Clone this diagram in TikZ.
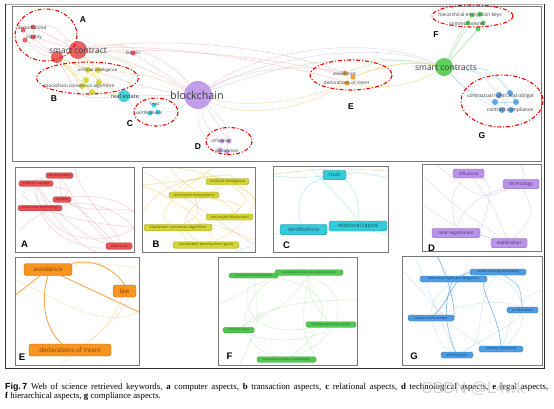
\documentclass[tikz,border=0pt]{standalone}
\usepackage{fontspec}
\setmainfont{Liberation Serif}
\newfontfamily\osans{Open Sans}
\newfontfamily\lsans{Liberation Sans}
\pgfdeclarelayer{bg}
\pgfdeclarelayer{paper}
\pgfsetlayers{paper,bg,main}
\definecolor{cRed}{RGB}{232,80,84}
\definecolor{cRedT}{RGB}{140,20,24}
\definecolor{cYel}{RGB}{212,212,52}
\definecolor{cYelT}{RGB}{95,95,0}
\definecolor{cCya}{RGB}{52,202,218}
\definecolor{cCyaT}{RGB}{10,85,95}
\definecolor{cPur}{RGB}{186,148,232}
\definecolor{cPurT}{RGB}{80,40,130}
\definecolor{cOra}{RGB}{248,148,32}
\definecolor{cOraT}{RGB}{135,65,0}
\definecolor{cGre}{RGB}{82,200,82}
\definecolor{cGreT}{RGB}{20,95,20}
\definecolor{cBlu}{RGB}{78,156,226}
\definecolor{cBluT}{RGB}{15,55,110}
\definecolor{cFrame}{RGB}{120,120,120}
\definecolor{cTxt}{RGB}{60,60,60}
\begin{document}
\begin{tikzpicture}[x=1pt,y=-1pt,
  every node/.style={inner sep=0pt},
  tc/.style={circle, inner sep=0pt, minimum size=#1, fill opacity=0.9},
  tlab/.style={font=\osans\fontsize{#1}{#1}\selectfont, text=cTxt},
  letter/.style={font=\lsans\bfseries\fontsize{#1}{#1}\selectfont, text=black},
  cluster/.style={draw=red, line width=1.1pt, dash pattern=on 4pt off 2pt on 1pt off 2pt},
  panel/.style={draw=cFrame, line width=0.8pt},
  kw/.style={rounded corners=1.6pt, inner xsep=1pt, inner ysep=0.5pt, line width=0.4pt},
  kwR/.style={kw, fill=cRed, draw=cRed!75!black, text=cRedT, font=\osans\fontsize{3.5}{3.5}\selectfont},
  kwY/.style={kw, fill=cYel, draw=cYel!75!black, text=cYelT, font=\osans\fontsize{3.8}{3.8}\selectfont},
  kwC/.style={kw, fill=cCya, draw=cCya!75!black, text=cCyaT, font=\osans\fontsize{5.3}{5.3}\selectfont},
  kwP/.style={kw, fill=cPur, draw=cPur!75!black, text=cPurT, font=\osans\fontsize{4.6}{4.6}\selectfont},
  kwO/.style={kw, rounded corners=2.5pt, fill=cOra, draw=cOra!75!black, text=cOraT, font=\osans\fontsize{6.2}{6.2}\selectfont},
  kwG/.style={kw, fill=cGre, draw=cGre!75!black, text=cGreT, font=\osans\fontsize{2.9}{2.9}\selectfont},
  kwB/.style={kw, fill=cBlu, draw=cBlu!75!black, text=cBluT, font=\osans\fontsize{3.3}{3.3}\selectfont},
  eR/.style={draw=cRed!70, line width=0.5pt, opacity=0.4},
  eY/.style={draw=cYel!80!orange, line width=0.5pt, opacity=0.45},
  eC/.style={draw=cCya!80, line width=0.5pt, opacity=0.45},
  eP/.style={draw=cPur!80, line width=0.5pt, opacity=0.45},
  eO/.style={draw=cOra!80, line width=0.5pt, opacity=0.4},
  eG/.style={draw=cGre!80, line width=0.5pt, opacity=0.4},
  eB/.style={draw=cBlu!80, line width=0.5pt, opacity=0.4},
]
\useasboundingbox (0,0) rectangle (554,408);
\begin{pgfonlayer}{paper}
\fill[white] (0,0) rectangle (554,408);
\end{pgfonlayer}

% ---------------- outer frames ----------------
\draw[draw=cFrame!60, line width=0.8pt] (5,4) -- (543,4);
\draw[draw=cFrame!40!black, line width=1pt] (5,4) -- (5,368) -- (544,368) -- (544,4);
\draw[panel] (12.5,6) rectangle (541,161);

% ---------------- top overview: nodes ----------------
\node[tc=18, fill=cRed] (scbig) at (78,50) {};
\node[tc=12, fill=cRed] (scsm) at (57,57) {};
\node[tc=5, fill=cRed] (dec1) at (23,30) {};
\node[tc=5, fill=cRed] (dec2) at (33,27) {};
\node[tc=5, fill=cRed] (sol1) at (25,40) {};
\node[tc=5, fill=cRed] (sol2) at (33,37) {};
\node[tc=5, fill=cRed] (btc) at (133,53) {};
\node[tc=6, fill=cYel] (y1) at (88,70) {};
\node[tc=6, fill=cYel] (y2) at (98,70) {};
\node[tc=6, fill=cYel] (y3) at (86,80) {};
\node[tc=6, fill=cYel] (y4) at (99,82) {};
\node[tc=6, fill=cYel] (y5) at (82,86) {};
\node[tc=6, fill=cYel] (y6) at (92,92) {};
\node[tc=12, fill=cCya] (re) at (124,96) {};
\node[tc=5, fill=cCya] (tr) at (154,105) {};
\node[tc=5, fill=cCya] (ce1) at (150,113) {};
\node[tc=5, fill=cCya] (ce2) at (158,112) {};
\node[tc=28, fill=cPur] (bc) at (198,95) {};
\node[tc=5, fill=cPur] (in1) at (222,141) {};
\node[tc=5, fill=cPur] (in2) at (229,141) {};
\node[tc=5, fill=cPur] (ex1) at (220,150) {};
\node[tc=5, fill=cPur] (ex2) at (227,152) {};
\node[tc=5, fill=cOra] (av1) at (345,73) {};
\node[tc=5, fill=cOra] (av2) at (353,77) {};
\node[tc=5, fill=cOra] (de1) at (347,83) {};
\node[tc=18, fill=cGre] (scs) at (444,67) {};
\node[tc=5, fill=cGre] (f1) at (472,15) {};
\node[tc=5, fill=cGre] (f2) at (480,14) {};
\node[tc=5, fill=cGre] (f3) at (468,23) {};
\node[tc=5, fill=cGre] (f4) at (483,23) {};
\node[tc=5, fill=cGre] (f5) at (478,29) {};
\node[tc=6, fill=cBlu] (g1) at (499,95) {};
\node[tc=6, fill=cBlu] (g2) at (510,93) {};
\node[tc=6, fill=cBlu] (g3) at (516,102) {};
\node[tc=6, fill=cBlu] (g4) at (511,110) {};
\node[tc=6, fill=cBlu] (g5) at (502,110) {};
\node[tc=6, fill=cBlu] (g6) at (495,102) {};

% top labels
\node[tlab=4.6] (tDec) at (32,28) {decentralized};
\node[tlab=4.6] (tSol) at (34,37) {solidity};
\node[tlab=8.5] (tSC) at (78,51) {smart contract};
\node[tlab=4.4] (tBtc) at (133,53) {bitcoin};
\node[tlab=4.3] (tAI) at (97.5,70) {artificial intelligence};
\node[tlab=4.7] (tBCA) at (79.5,86) {blockchain consensus algorithm};
\node[tlab=5.8] (tRE) at (125,96) {real estate};
\node[tlab=4.2] (tTr) at (155,104) {trust};
\node[tlab=4.3] (tCe) at (149,113) {certifications};
\node[tlab=10.8] (tBC) at (197,95) {blockchain};
\node[tlab=4.4] (tIn) at (221,141) {influence};
\node[tlab=4.4] (tEx) at (227,151) {exploration};
\node[tlab=4.8] (tAv) at (344.5,74) {avoidance};
\node[tlab=4.6] (tDe) at (346.5,83) {declarations of intent};
\node[tlab=8.5] (tSCs) at (446,68) {smart contracts};
\node[tlab=4.9] (tHEK) at (470,15) {hierarchical encryption keys};
\node[tlab=4.9] (tCS) at (467,24) {common secret};
\node[tlab=4.9] (tCRO) at (500.5,96) {contractual rights and obligat};
\node[tlab=4.9] (tCC) at (510,110) {contract compliance};

% cluster ellipses
\draw[cluster] (46,35) ellipse [x radius=31, y radius=26];
\draw[cluster] (87.5,78) ellipse [x radius=51, y radius=16];
\draw[cluster] (156,112) ellipse [x radius=22, y radius=14];
\draw[cluster] (229,141) ellipse [x radius=23, y radius=13.5];
\draw[cluster] (351,75) ellipse [x radius=41, y radius=15];
\draw[cluster] (472.5,16) ellipse [x radius=40.5, y radius=11];
\draw[cluster] (502,101) ellipse [x radius=41, y radius=26];
\node[letter=8.5] (LA) at (83,20) {A};
\node[letter=8.5] (LB) at (54,99) {B};
\node[letter=8.5] (LC) at (130,124) {C};
\node[letter=8.5] (LD) at (198,147) {D};
\node[letter=8.5] (LE) at (351,107) {E};
\node[letter=8.5] (LF) at (436,35) {F};
\node[letter=8.5] (LG) at (482,136) {G};

% ---------------- top overview: edges ----------------
\begin{pgfonlayer}{bg}
\draw[eR] (scbig) .. controls (110,40) and (160,48) .. (bc);
\draw[eR] (scbig) .. controls (120,55) and (160,75) .. (bc);
\draw[eR] (scsm) .. controls (110,78) and (160,92) .. (bc);
\draw[eR] (scbig) -- (btc);
\draw[eP] (btc) -- (bc);
\draw[eR] (scbig) .. controls (180,33) and (290,52) .. (av1);
\draw[eR] (scsm) .. controls (150,40) and (300,62) .. (av2);
\draw[eR] (scbig) .. controls (170,40) and (310,70) .. (de1);
\draw[eR] (dec1) -- (scsm); \draw[eR] (dec2) -- (scbig);
\draw[eR] (sol1) -- (scsm); \draw[eR] (sol2) -- (scbig);
\draw[eR] (dec1) -- (sol1); \draw[eR] (dec2) -- (sol2);
\draw[eR] (dec1) .. controls (50,22) .. (scbig);
\draw[eR] (sol1) .. controls (40,55) .. (scsm);
\draw[eO] (bc) .. controls (240,118) and (300,112) .. (de1);
\draw[eO] (bc) .. controls (250,110) and (320,100) .. (av2);
\draw[eR] (bc) .. controls (240,70) and (300,62) .. (av1);
\draw[eP] (bc) .. controls (250,55) and (360,30) .. (scs);
\draw[eP] (bc) .. controls (260,60) and (370,38) .. (scs);
\draw[eG] (bc) .. controls (240,80) and (330,45) .. (scs);
\draw[eY, line width=1pt] (av2) .. controls (380,66) and (410,60) .. (scs);
\draw[eG] (av1) .. controls (380,58) and (410,58) .. (scs);
\draw[eY] (de1) .. controls (390,92) and (420,82) .. (scs);
\draw[eG] (scs) -- (f3); \draw[eG] (scs) -- (f5);
\draw[eG] (scs) .. controls (455,40) .. (f1);
\draw[eG] (scs) .. controls (465,45) .. (f4);
\draw[eG] (scs) .. controls (462,35) .. (f2);
\draw[eG] (f1) -- (f2) -- (f4) -- (f5) -- (f3) -- (f1);
\draw[eB] (scs) .. controls (480,72) .. (g1);
\draw[eB] (scs) .. controls (465,90) .. (g6);
\draw[eB] (scs) .. controls (490,68) .. (g2);
\draw[eB] (scs) .. controls (475,98) .. (g5);
\draw[eC] (scs) .. controls (500,75) .. (g3);
\draw[eB] (g1) -- (g2) -- (g3) -- (g4) -- (g5) -- (g6) -- (g1);
\draw[eB] (g1) -- (g4); \draw[eB] (g2) -- (g5); \draw[eB] (g6) -- (g3);
\draw[eP] (bc) .. controls (205,125) .. (in1);
\draw[eP] (bc) .. controls (215,120) .. (in2);
\draw[eP] (bc) .. controls (198,130) .. (ex1);
\draw[eP] (bc) .. controls (228,125) .. (ex2);
\draw[eP] (in1) -- (ex1); \draw[eP] (in2) -- (ex2);
\draw[eC] (re) -- (bc);
\draw[eC] (re) .. controls (140,98) .. (tr);
\draw[eC] (re) .. controls (135,110) .. (ce1);
\draw[eC] (tr) -- (bc); \draw[eC] (ce2) .. controls (175,112) .. (bc);
\draw[eC] (tr) -- (ce1) -- (ce2) -- (tr);
\draw[eY] (scsm) -- (y1); \draw[eY] (scsm) -- (y3); \draw[eY] (scsm) -- (y5);
\draw[eY] (scbig) -- (y2); \draw[eY] (scbig) -- (y4); \draw[eY] (scsm) -- (y6);
\draw[eY] (y1) -- (y2) -- (y4) -- (y6) -- (y5) -- (y3) -- (y1);
\draw[eY] (y1) -- (y4); \draw[eY] (y2) -- (y3);
\draw[eY] (y4) -- (re); \draw[eY] (y6) -- (re);
\draw[eO] (y2) .. controls (150,75) .. (bc);
\draw[eR] (scsm) .. controls (80,100) .. (re);
\draw[eG] (scbig) .. controls (140,65) .. (re);
\end{pgfonlayer}

% ---------------- panel A ----------------
\draw[panel] (15.5,167) rectangle (134,252);
\node[kwR, minimum width=27, minimum height=5.5] (aDec) at (59.5,175.5) {decentralized};
\node[kwR, minimum width=34, minimum height=5.5] (aPoc) at (36,183.5) {proof of concept};
\node[kwR, minimum width=18, minimum height=5.5] (aSol) at (62,199.5) {solidity};
\node[kwR, minimum width=44, minimum height=5.5] (aBt) at (40,208) {blockchain technology};
\node[kwR, minimum width=26, minimum height=6.5] (aEth) at (119,246) {ethereum};
\node[letter=9.5] (LA2) at (24.5,244) {A};
\coordinate (aX1) at (134,212);
\coordinate (aX2) at (134,228);
\coordinate (aX3) at (98,252);
\coordinate (aX4) at (75,167);
\begin{pgfonlayer}{bg}
\begin{scope}
\clip (15.5,167) rectangle (134,252);
\draw[eR] (aDec) .. controls (75,200) and (95,235) .. (aEth);
\draw[eR] (aPoc) .. controls (60,220) and (90,240) .. (aEth);
\draw[eR] (aSol) .. controls (85,210) and (100,230) .. (aEth);
\draw[eR] (aBt) .. controls (50,240) and (90,250) .. (aEth);
\draw[eR] (aPoc) .. controls (70,190) .. (aSol);
\draw[eR] (aPoc) .. controls (20,195) .. (aBt);
\draw[eR] (aDec) .. controls (60,185) .. (aSol);
\draw[eR] (aDec) .. controls (30,180) .. (aBt);
\draw[eR] (aBt) .. controls (60,195) and (110,190) .. (aX1);
\draw[eR] (aPoc) .. controls (50,215) and (80,250) .. (aX3);
\draw[eR] (aBt) .. controls (90,225) and (120,225) .. (aX2);
\draw[eR] (aSol) .. controls (90,215) and (120,205) .. (aX1);
\draw[eR] (aX4) .. controls (80,200) and (120,230) .. (aEth);
\draw[eR] (aPoc) .. controls (40,240) and (100,250) .. (aX2);
\draw[eR] (20,230) .. controls (60,190) and (110,200) .. (aX2);
\end{scope}
\end{pgfonlayer}

% ---------------- panel B ----------------
\draw[panel] (142.5,167) rectangle (255,252);
\node[kwY, minimum width=43, minimum height=6] (bAI) at (227.5,181.5) {artificial intelligence};
\node[kwY, minimum width=50, minimum height=6] (bRET) at (194,195) {real estate transactions};
\node[kwY, minimum width=47, minimum height=6] (bREB) at (229.5,217) {real estate blockchain};
\node[kwY, minimum width=68, minimum height=6.5] (bBCA) at (178,227.5) {blockchain consensus algorithm};
\node[kwY, minimum width=66, minimum height=6.5] (bSDG) at (206,245) {sustainable development goals};
\node[letter=9.5] (LB2) at (156,244) {B};
\coordinate (bX1) at (142.5,185);
\coordinate (bX2) at (170,167);
\coordinate (bX3) at (255,200);
\coordinate (bX4) at (215,167);
\coordinate (bX5) at (255,240);
\coordinate (bX6) at (142.5,212);
\begin{pgfonlayer}{bg}
\begin{scope}
\clip (142.5,167) rectangle (255,252);
\draw[eY] (bAI) .. controls (200,170) and (170,190) .. (bRET);
\draw[eY] (bAI) .. controls (250,200) .. (bREB);
\draw[eY] (bRET) .. controls (200,215) .. (bBCA);
\draw[eY] (bRET) .. controls (245,205) .. (bREB);
\draw[eY] (bBCA) .. controls (190,245) .. (bSDG);
\draw[eY] (bAI) .. controls (180,210) and (175,230) .. (bSDG);
\draw[eY] (bX1) .. controls (180,200) and (220,235) .. (bSDG);
\draw[eY] (bX2) .. controls (190,200) and (240,200) .. (bREB);
\draw[eY] (bX4) .. controls (180,190) and (150,215) .. (bBCA);
\draw[eY] (bX2) .. controls (230,175) and (250,190) .. (bX3);
\draw[eY] (bX6) .. controls (170,170) and (230,170) .. (bX3);
\draw[eY] (bBCA) .. controls (215,220) and (235,235) .. (bX5);
\draw[eY] (bX1) .. controls (200,180) and (240,170) .. (bAI);
\draw[eY] (bSDG) .. controls (240,230) and (250,215) .. (bX3);
\draw[eR] (145,172) .. controls (190,200) and (230,230) .. (255,245);
\draw[eC] (235,252) .. controls (245,248) .. (255,246);
\end{scope}
\end{pgfonlayer}

% ---------------- panel C ----------------
\draw[panel] (273.5,166.5) rectangle (388,252);
\node[kwC, minimum width=23, minimum height=9.5] (cTr) at (334.5,175) {trust};
\node[kwC, minimum width=47, minimum height=10.5] (cCe) at (303.5,229.5) {certifications};
\node[kwC, minimum width=58, minimum height=10] (cRC) at (358,226) {relational capital};
\node[letter=9.5] (LC2) at (286.5,245) {C};
\coordinate (cX1) at (273.5,176);
\coordinate (cX2) at (310,166.5);
\coordinate (cX3) at (388,178);
\coordinate (cX4) at (273.5,234);
\coordinate (cX5) at (388,236);
\begin{pgfonlayer}{bg}
\begin{scope}
\clip (273.5,166.5) rectangle (388,252);
\draw[eC] (cTr) .. controls (300,185) and (295,205) .. (cCe);
\draw[eC] (cTr) .. controls (355,185) and (360,205) .. (cRC);
\draw[eC] (cX1) .. controls (300,178) .. (cTr);
\draw[eC] (cX2) .. controls (330,190) and (350,205) .. (cRC);
\draw[eC] (cTr) .. controls (360,172) .. (cX3);
\draw[eC] (cCe) -- (cRC);
\draw[eC] (cX4) -- (cCe);
\draw[eC] (cRC) .. controls (375,232) .. (cX5);
\draw[draw=cOra!60!brown, line width=0.5pt, opacity=0.35] (273.5,174) .. controls (330,168) .. (388,171);
\end{scope}
\end{pgfonlayer}

% ---------------- panel D ----------------
\draw[panel] (422.5,164) rectangle (541,251);
\node[kwP, minimum width=31, minimum height=9] (dIn) at (468.5,173.5) {influence};
\node[kwP, minimum width=36, minimum height=9.5] (dTe) at (521,184) {technology};
\node[kwP, minimum width=48, minimum height=9.5] (dLR) at (456,233) {land registration};
\node[kwP, minimum width=36, minimum height=9.5] (dEx) at (509,243) {exploration};
\node[letter=9.5] (LD2) at (431.5,248) {D};
\coordinate (dX1) at (422.5,176);
\coordinate (dX2) at (422.5,205);
\coordinate (dX3) at (520,164);
\coordinate (dX4) at (435,164);
\begin{pgfonlayer}{bg}
\begin{scope}
\clip (422.5,164) rectangle (541,251);
\draw[eP] (dIn) .. controls (450,195) .. (dLR);
\draw[eP] (dIn) .. controls (490,200) .. (dEx);
\draw[eP] (dTe) .. controls (480,195) and (460,210) .. (dLR);
\draw[eP] (dTe) .. controls (535,215) .. (dEx);
\draw[eP] (dLR) .. controls (480,235) .. (dEx);
\draw[eP] (dX1) .. controls (460,210) .. (dEx);
\draw[eP] (dX2) .. controls (460,230) .. (dEx);
\draw[eP] (dX3) .. controls (525,175) .. (dTe);
\draw[eP] (dX4) .. controls (480,200) .. (dTe);
\draw[eP] (dIn) .. controls (500,185) and (480,230) .. (dLR);
\end{scope}
\end{pgfonlayer}

% ---------------- panel E ----------------
\draw[panel] (15.5,257) rectangle (139,365);
\node[kwO, minimum width=48, minimum height=12] (eAv) at (48,269.5) {avoidance};
\node[kwO, minimum width=23, minimum height=12] (eLa) at (124.5,291) {law};
\node[kwO, minimum width=82, minimum height=12] (eDe) at (70,350) {declarations of intent};
\node[letter=9.5] (LE2) at (22,357.5) {E};
\coordinate (eX1) at (15.5,295);
\coordinate (eX2) at (139,312);
\coordinate (eX3) at (139,268);
\coordinate (eX4) at (60,365);
\coordinate (eX5) at (15.5,280);
\begin{pgfonlayer}{bg}
\begin{scope}
\clip (15.5,257) rectangle (139,365);
\draw[draw=cOra, line width=0.9pt, opacity=0.8] (eAv.north east) .. controls (95,258) and (115,270) .. (eLa.north);
\draw[draw=cOra, line width=0.9pt, opacity=0.8] (eAv.south) .. controls (40,300) and (45,330) .. (eDe);
\draw[draw=cOra, line width=0.9pt, opacity=0.8] (eAv) -- (eX1);
\draw[draw=cOra, line width=0.9pt, opacity=0.8] (eAv) -- (eX2);
\draw[eO, opacity=0.35] (eLa) .. controls (110,330) and (80,350) .. (eX4);
\draw[eO, opacity=0.35] (eAv) .. controls (90,262) .. (eX3);
\draw[eO, opacity=0.35] (eDe) .. controls (110,330) and (130,300) .. (eLa);
\draw[eO, opacity=0.35] (eX5) .. controls (60,300) and (100,330) .. (eX2);
\end{scope}
\end{pgfonlayer}

% ---------------- panel F ----------------
\draw[panel] (218.5,257) rectangle (357,365);
\node[kwG, minimum width=49, minimum height=5] (fHEK) at (253.5,275.5) {hierarchical encryption keys};
\node[kwG, minimum width=68, minimum height=5.5] (fSBS) at (309,272.5) {sustainable blockchain-enabled services};
\node[kwG, minimum width=50, minimum height=5.5] (fMSS) at (331,324.5) {multifaceted scaling solution};
\node[kwG, minimum width=31, minimum height=5.5] (fCS) at (238.5,330) {common secret};
\node[kwG, minimum width=59, minimum height=5.5] (fHCC) at (286.5,359.5) {hierarchical contract conditionality};
\node[letter=9.5] (LF2) at (229.5,356.5) {F};
\coordinate (fX1) at (218.5,305);
\coordinate (fX2) at (240,365);
\coordinate (fX3) at (357,300);
\coordinate (fX4) at (320,365);
\begin{pgfonlayer}{bg}
\begin{scope}
\clip (218.5,257) rectangle (357,365);
\draw[eG, opacity=0.3] (fSBS) .. controls (250,280) and (220,340) .. (fHCC);
\draw[eG, opacity=0.3] (fHEK) .. controls (350,270) and (360,330) .. (fHCC);
\draw[eG, opacity=0.3] (fHEK) .. controls (240,300) and (245,340) .. (fMSS);
\draw[eG, opacity=0.3] (fSBS) .. controls (310,300) .. (fMSS);
\draw[eG, opacity=0.3] (fSBS) .. controls (300,330) .. (fX4);
\draw[eG, opacity=0.3] (fSBS) .. controls (290,310) and (250,320) .. (fCS);
\draw[eG, opacity=0.3] (fHEK) .. controls (260,320) .. (fX2);
\draw[eG, opacity=0.3] (fCS) .. controls (270,345) and (320,340) .. (fMSS);
\draw[eG, opacity=0.3] (fX1) .. controls (260,280) and (300,265) .. (fSBS);
\draw[eG, opacity=0.3] (fCS) .. controls (270,300) and (330,300) .. (fX3);
\draw[eG, opacity=0.3] (fHEK) .. controls (330,285) and (340,320) .. (fHCC);
\end{scope}
\end{pgfonlayer}

% ---------------- panel G ----------------
\draw[panel] (402.5,256) rectangle (542,365);
\node[kwB, minimum width=56, minimum height=6] (gMCT) at (498,272) {model checking and testing};
\node[kwB, minimum width=67, minimum height=6] (gCRO) at (453.5,279) {contractual rights and obligations};
\node[kwB, minimum width=31, minimum height=6] (gOnB) at (522.5,310) {on blockchain};
\node[kwB, minimum width=46, minimum height=6] (gCE) at (431,318) {contract enforcement};
\node[kwB, minimum width=44, minimum height=6] (gCC) at (501,349) {contract compliance};
\node[kwB, minimum width=32, minimum height=6] (gOffB) at (457,355) {off blockchain};
\node[letter=9.5] (LG2) at (414,356.5) {G};
\coordinate (gX1) at (437,256);
\coordinate (gX2) at (402.5,270);
\coordinate (gX3) at (415,256);
\coordinate (gX4) at (542,290);
\begin{pgfonlayer}{bg}
\begin{scope}
\clip (402.5,256) rectangle (542,365);
\draw[draw=cBlu, line width=0.6pt, opacity=0.8] (gCRO.east) .. controls (475,285) and (498,310) .. (gCC.north);
\draw[draw=cBlu, line width=0.6pt, opacity=0.8] (gCE) .. controls (450,300) and (455,275) .. (gMCT.west);
\draw[draw=cBlu, line width=0.6pt, opacity=0.8] (gX1) .. controls (445,270) and (455,300) .. (gCE.east);
\draw[draw=cBlu, line width=0.6pt, opacity=0.7] (gCRO) .. controls (440,310) and (450,340) .. (gOffB);
\draw[draw=cBlu, line width=0.6pt, opacity=0.6] (gMCT) .. controls (520,285) .. (gOnB);
\draw[eB, opacity=0.3] (gX2) .. controls (430,300) and (460,340) .. (gCC);
\draw[eB, opacity=0.3] (gX3) .. controls (440,320) .. (gOffB);
\draw[eB, opacity=0.3] (gCE) .. controls (470,300) and (510,300) .. (gOnB);
\draw[eB, opacity=0.3] (gOffB) .. controls (500,330) and (520,320) .. (gOnB);
\draw[eB, opacity=0.3] (gCE) .. controls (440,345) .. (gOffB);
\draw[eB, opacity=0.3] (gCRO) .. controls (520,270) and (540,320) .. (gCC);
\draw[eB, opacity=0.3] (gMCT) .. controls (470,310) and (490,340) .. (gOffB);
\draw[eB, opacity=0.3] (gX4) .. controls (510,300) and (510,330) .. (gCC);
\draw[eB, opacity=0.3] (gCE) .. controls (430,290) and (470,270) .. (gMCT);
\end{scope}
\end{pgfonlayer}

% ---------------- caption ----------------
\node[anchor=north west, align=left, font=\fontsize{8.8}{9.8}\selectfont] (cap) at (5,382.5)
 {\makebox[543pt][s]{{\lsans\bfseries Fig.\,7}\hspace{4pt}Web of science retrieved keywords, \textbf{a} computer aspects, \textbf{b} transaction aspects, \textbf{c} relational aspects, \textbf{d} technological aspects, \textbf{e} legal aspects,}\\
 \textbf{f} hierarchical aspects, \textbf{g} compliance aspects.};
\node[anchor=west, font=\lsans\fontsize{16}{16}\selectfont, text=black!22, opacity=0.8] (wm) at (421,389) {CSDN @L4wk};
\end{tikzpicture}
\end{document}
